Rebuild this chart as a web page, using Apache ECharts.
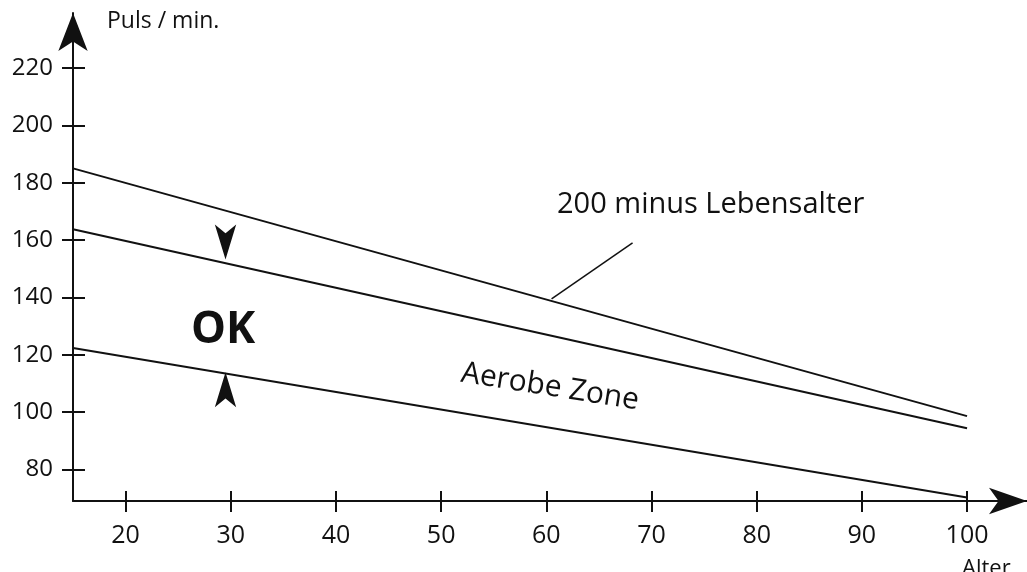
<!DOCTYPE html>
<html>
<head>
<meta charset="utf-8">
<script src="https://cdn.jsdelivr.net/npm/echarts@6/dist/echarts.min.js"></script>
<style>
  html, body { margin: 0; padding: 0; background: #fff; }
  #pulse-chart { width: 1027px; height: 572px; }
</style>
</head>
<body>
<div id="pulse-chart"></div>
<script>
// values
const ages = [15, 100];
const maxPulse = [185, 98.6];        // 200 minus Lebensalter
const upperAerobic = [163.8, 94.4];  // upper edge of aerobic zone
const lowerAerobic = [122.4, 70.2];  // lower edge of aerobic zone
const xTicks = [20, 30, 40, 50, 60, 70, 80, 90, 100];
const yTicks = [80, 100, 120, 140, 160, 180, 200, 220];
const markerAges = [29.5, 29.5];     // arrow tips, sitting on the zone edges
const markerValues = [153.2, 113.9];
const leaderAges = [60.5, 68.2];
const leaderValues = [139.5, 159];

const ink = '#111';
const font = "'Open Sans', 'DejaVu Sans', sans-serif";

const pulseChart = echarts.init(document.getElementById('pulse-chart'));

function pairs(xs, ys) {
  return xs.map((x, i) => [x, ys[i]]);
}

function lineSeries(values) {
  return {
    type: 'line',
    data: pairs(ages, values),
    showSymbol: false,
    silent: true,
    lineStyle: { color: ink, width: 2 }
  };
}

const xBase = {
  type: 'value',
  min: 15,
  max: 105.7,
  position: 'bottom',
  splitLine: { show: false }
};
const yBase = {
  type: 'value',
  min: 69,
  max: 239.2,
  position: 'left',
  splitLine: { show: false }
};

const option = {
  animation: false,
  backgroundColor: '#fff',
  grid: { left: 73, right: 0, top: 13, bottom: 71 },
  xAxis: [
    Object.assign({}, xBase, {
      axisLine: {
        lineStyle: { color: ink, width: 2 },
        symbol: ['none', 'arrow'],
        symbolSize: [20, 38]
      },
      axisTick: { customValues: xTicks, length: 11, lineStyle: { color: ink, width: 2 } },
      axisLabel: {
        customValues: xTicks,
        margin: 22,
        color: ink,
        fontFamily: font,
        fontSize: 25
      }
    }),
    Object.assign({}, xBase, {
      axisLine: { show: false },
      axisTick: { customValues: xTicks, inside: true, length: 10, lineStyle: { color: ink, width: 2 } },
      axisLabel: { show: false }
    })
  ],
  yAxis: [
    Object.assign({}, yBase, {
      axisLine: {
        show: true,
        lineStyle: { color: ink, width: 2 },
        symbol: ['none', 'arrow'],
        symbolSize: [22, 38]
      },
      axisTick: { show: true, customValues: yTicks, length: 11, lineStyle: { color: ink, width: 2 } },
      axisLabel: {
        customValues: yTicks,
        margin: 20,
        color: ink,
        fontFamily: font,
        fontSize: 24
      }
    }),
    Object.assign({}, yBase, {
      axisLine: { show: false },
      axisTick: { show: true, customValues: yTicks, inside: true, length: 12, lineStyle: { color: ink, width: 2 } },
      axisLabel: { show: false }
    })
  ],
  series: [
    lineSeries(maxPulse),
    lineSeries(upperAerobic),
    lineSeries(lowerAerobic),
    {
      type: 'line',
      data: pairs(leaderAges, leaderValues),
      showSymbol: false,
      silent: true,
      lineStyle: { color: ink, width: 1.5 }
    },
    {
      type: 'scatter',
      silent: true,
      data: [
        { value: [markerAges[0], markerValues[0]], symbolRotate: 180 },
        { value: [markerAges[1], markerValues[1]], symbolRotate: 0 }
      ],
      symbol: 'arrow',
      symbolSize: [16, 35],
      itemStyle: { color: ink, opacity: 1 }
    }
  ],
  graphic: [
    {
      type: 'text', left: 107, top: 10,
      style: { text: 'Puls / min.', fill: ink, font: '23px ' + font }
    },
    {
      type: 'text', left: 557, top: 190,
      style: { text: '200 minus Lebensalter', fill: ink, font: '29px ' + font }
    },
    {
      type: 'text', left: 191, top: 308,
      style: { text: 'OK', fill: ink, font: 'bold 44px ' + font }
    },
    {
      type: 'text', x: 550, y: 387, rotation: -9 * Math.PI / 180,
      style: { text: 'Aerobe Zone', fill: ink, font: '30px ' + font, align: 'center', verticalAlign: 'middle' }
    },
    {
      type: 'text', left: 962, top: 558,
      style: { text: 'Alter', fill: ink, font: '22px ' + font }
    }
  ]
};

pulseChart.setOption(option);
</script>
</body>
</html>
